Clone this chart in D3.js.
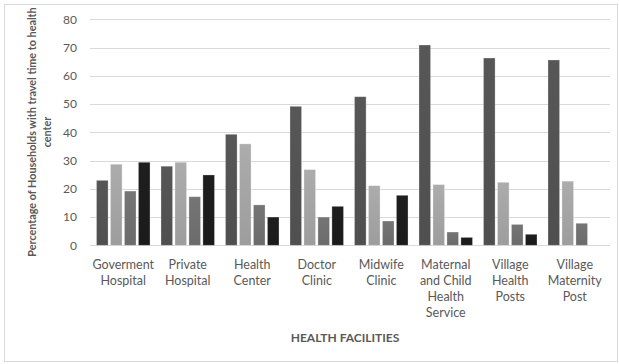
<!DOCTYPE html>
<html><head><meta charset="utf-8">
<script src="https://cdn.jsdelivr.net/npm/d3@7"></script>
<style>body{margin:0;background:#fff;} text{font-family:Lato,"Open Sans",sans-serif;}</style>
</head><body>
<svg id="chart" width="619" height="364"></svg>
<script>
const categories = [
  ["Goverment","Hospital"],
  ["Private","Hospital"],
  ["Health","Center"],
  ["Doctor","Clinic"],
  ["Midwife","Clinic"],
  ["Maternal","and Child","Health","Service"],
  ["Village","Health","Posts"],
  ["Village","Maternity","Post"]
];
const series1 = [23.0, 28.0, 39.3, 49.2, 52.6, 70.9, 66.3, 65.6];
const series2 = [28.7, 29.4, 35.9, 26.8, 21.1, 21.5, 22.3, 22.7];
const series3 = [19.2, 17.2, 14.3, 10.0, 8.6, 4.7, 7.4, 7.8];
const series4 = [29.4, 24.9, 10.0, 13.8, 17.7, 2.8, 3.9, null];
const seriesColors = ["#525252", "#a3a3a3", "#6f6f6f", "#1c1c1c"];
const yTicks = [0,10,20,30,40,50,60,70,80];
const yTitle = ["Percentage of Households with travel time to health","center"];
const xTitle = "HEALTH FACILITIES";

const svg = d3.select("#chart");
svg.append("rect").attr("x",4.5).attr("y",4.5).attr("width",613).attr("height",357)
  .attr("fill","#fff").attr("stroke","#d9d9d9");

const plotLeft = 91, plotRight = 607, plotTop = 19.3, plotBottom = 245.3;
const x0 = d3.scaleBand().domain(d3.range(categories.length)).range([plotLeft,plotRight]).paddingInner(0.17).paddingOuter(0.085);
const x1 = d3.scaleBand().domain([0,1,2,3]).range([0,x0.bandwidth()]).paddingInner(0.17);
const y = d3.scaleLinear().domain([0,80]).range([plotBottom,plotTop]);

// gridlines
svg.append("g").selectAll("line").data(yTicks).join("line")
  .attr("x1",90).attr("x2",610)
  .attr("y1",d=>Math.round(y(d))+0.5).attr("y2",d=>Math.round(y(d))+0.5)
  .attr("stroke","#d9d9d9").attr("stroke-width",1);

// y axis labels
const yAxis = d3.axisLeft(y).tickValues(yTicks).tickSize(0).tickPadding(0);
const ga = svg.append("g").attr("transform",`translate(77,0)`).call(yAxis);
ga.select(".domain").remove();
ga.selectAll("text").attr("font-size",12).attr("fill","#595959");

// bars
const allSeries = [series1,series2,series3,series4];
const defs = svg.append("defs");
seriesColors.forEach((c,i)=>{
  const g = defs.append("linearGradient").attr("id","g"+i).attr("x1",0).attr("x2",0).attr("y1",0).attr("y2",1);
  g.append("stop").attr("offset","0%").attr("stop-color",d3.color(c).brighter(0.15));
  g.append("stop").attr("offset","100%").attr("stop-color",d3.color(c).darker(0.1));
});
const groups = svg.append("g").selectAll("g").data(categories).join("g")
  .attr("transform",(d,i)=>`translate(${x0(i)},0)`);
groups.selectAll("rect").data((d,i)=>allSeries.map((s,k)=>({k,v:s[i]})).filter(e=>e.v!=null))
  .join("rect")
  .attr("x",e=>x1(e.k)).attr("width",x1.bandwidth())
  .attr("y",e=>y(e.v)).attr("height",e=>y(0)-y(e.v))
  .attr("fill",e=>`url(#g${e.k})`)
  .attr("stroke","#ffffff").attr("stroke-opacity",0.35).attr("stroke-width",0.8);

// category labels
const xl = svg.append("g");
categories.forEach((lines,i)=>{
  const t = xl.append("text").attr("text-anchor","middle").attr("font-size",12.5).attr("fill","#595959")
    .attr("x",x0(i)+x0.bandwidth()/2).attr("y",269);
  lines.forEach((l,j)=>t.append("tspan").attr("x",x0(i)+x0.bandwidth()/2).attr("dy",j===0?0:16).text(l));
});

// axis titles
svg.append("text").attr("x",345).attr("y",342).attr("text-anchor","middle")
  .attr("font-size",12).attr("font-weight","bold").attr("fill","#595959").text(xTitle);
const yt = svg.append("text").attr("transform","translate(0,132) rotate(-90)").attr("text-anchor","middle")
  .attr("font-size",10.8).attr("font-weight","bold").attr("fill","#595959");
yTitle.forEach((l,j)=>yt.append("tspan").attr("x",0).attr("y",j===0?36:51).text(l));
</script>
</body></html>
